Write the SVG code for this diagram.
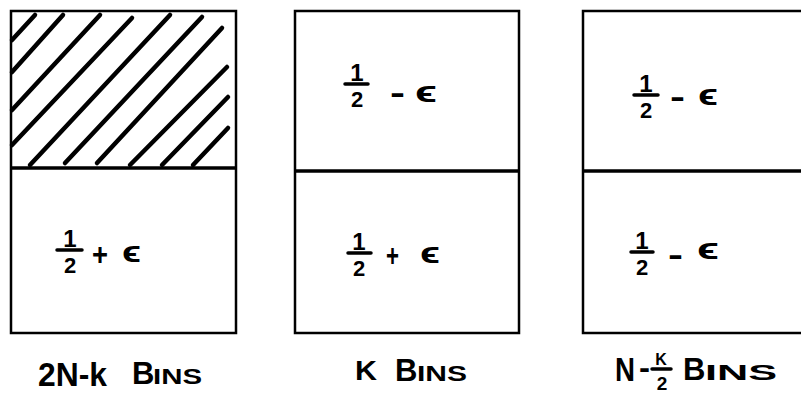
<svg xmlns="http://www.w3.org/2000/svg" width="801" height="395" viewBox="0 0 801 395">
<style>
.box{fill:#fff;stroke:#000;stroke-width:2.5}
.div{stroke:#000;stroke-width:3.5}
.hatch{stroke:#000;stroke-width:4.5;stroke-linecap:round;fill:none}
.frac{stroke:#000;stroke-width:3.5;stroke-linecap:round}
.t{font-family:"Liberation Sans",Arial,sans-serif;font-weight:bold}
.one{font-size:24px;text-anchor:middle}
.two{font-size:22px;text-anchor:middle}
.eps{font-size:30px}
.lab{font-size:34px}
.big{font-size:31px}
.sm{font-size:22px}
</style>
<rect width="801" height="395" fill="#fff"/>

<g id="box1">
<rect class="box" x="11" y="11" width="225" height="322"/>
<line class="div" x1="11" y1="168" x2="236" y2="168"/>
<g class="hatch">
<line x1="12" y1="40" x2="35" y2="15"/>
<line x1="12" y1="72" x2="63" y2="15"/>
<line x1="12" y1="110" x2="100" y2="15"/>
<line x1="12" y1="145" x2="132" y2="18"/>
<line x1="30" y1="165" x2="170" y2="15"/>
<line x1="65" y1="163" x2="202" y2="17"/>
<line x1="97" y1="163" x2="222" y2="28"/>
<line x1="130" y1="165" x2="227" y2="67"/>
<line x1="162" y1="165" x2="228" y2="97"/>
<line x1="193" y1="165" x2="228" y2="128"/>
</g>
<g class="t">
<text class="one" x="70" y="247">1</text>
<text class="two" x="70" y="273">2</text>
<text class="big" x="92" y="265" textLength="16" lengthAdjust="spacingAndGlyphs">+</text>
<text class="eps" x="122" y="262" textLength="19" lengthAdjust="spacingAndGlyphs">ϵ</text>
<text class="lab" x="38" y="386" textLength="69" lengthAdjust="spacingAndGlyphs">2N-k</text>
<text class="big" x="132" y="384">B</text>
<text class="sm" x="153" y="384" textLength="49" lengthAdjust="spacingAndGlyphs">INS</text>
</g>
<line class="frac" x1="57" y1="250" x2="82" y2="250"/>
</g>

<g id="box2">
<rect class="box" x="295" y="11" width="224" height="322"/>
<line class="div" x1="295" y1="171" x2="519" y2="171"/>
<g class="t">
<text class="one" x="357" y="81">1</text>
<text class="two" x="357" y="107">2</text>
<text class="big" x="390" y="103" textLength="15" lengthAdjust="spacingAndGlyphs">-</text>
<text class="eps" x="415" y="102" textLength="22" lengthAdjust="spacingAndGlyphs">ϵ</text>
<text class="one" x="359" y="250">1</text>
<text class="two" x="359" y="276">2</text>
<text class="big" x="386" y="266" textLength="13" lengthAdjust="spacingAndGlyphs">+</text>
<text class="eps" x="420" y="263" textLength="20" lengthAdjust="spacingAndGlyphs">ϵ</text>
<text class="big" x="355" y="380" style="font-size:27px" textLength="22" lengthAdjust="spacingAndGlyphs">K</text>
<text class="big" x="395" y="381">B</text>
<text class="sm" x="417" y="381" textLength="50" lengthAdjust="spacingAndGlyphs">INS</text>
</g>
<line class="frac" x1="345" y1="84" x2="368" y2="84"/>
<line class="frac" x1="348" y1="253" x2="371" y2="253"/>
</g>

<g id="box3">
<rect class="box" x="583" y="11" width="230" height="322"/>
<line class="div" x1="583" y1="171" x2="801" y2="171"/>
<g class="t">
<text class="one" x="646" y="92">1</text>
<text class="two" x="646" y="118">2</text>
<text class="big" x="670" y="107" textLength="15" lengthAdjust="spacingAndGlyphs">-</text>
<text class="eps" x="698" y="105" textLength="20" lengthAdjust="spacingAndGlyphs">ϵ</text>
<text class="one" x="642" y="249">1</text>
<text class="two" x="642" y="275">2</text>
<text class="big" x="668" y="265" textLength="15" lengthAdjust="spacingAndGlyphs">-</text>
<text class="eps" x="697" y="259" textLength="22" lengthAdjust="spacingAndGlyphs">ϵ</text>
<text class="lab" x="615" y="381" textLength="20" lengthAdjust="spacingAndGlyphs">N</text>
<text class="big" x="639" y="378" textLength="11" lengthAdjust="spacingAndGlyphs">-</text>
<text class="t" x="661" y="365" style="font-size:16px;text-anchor:middle">K</text>
<text class="t" x="662" y="390" style="font-size:19px;text-anchor:middle">2</text>
<text class="big" x="683" y="380">B</text>
<text class="sm" x="705" y="380" textLength="72" lengthAdjust="spacingAndGlyphs">INS</text>
</g>
<line class="frac" x1="634" y1="95" x2="658" y2="95"/>
<line class="frac" x1="631" y1="252" x2="653" y2="252"/>
<line class="frac" x1="652" y1="369" x2="671" y2="369"/>
</g>
</svg>
